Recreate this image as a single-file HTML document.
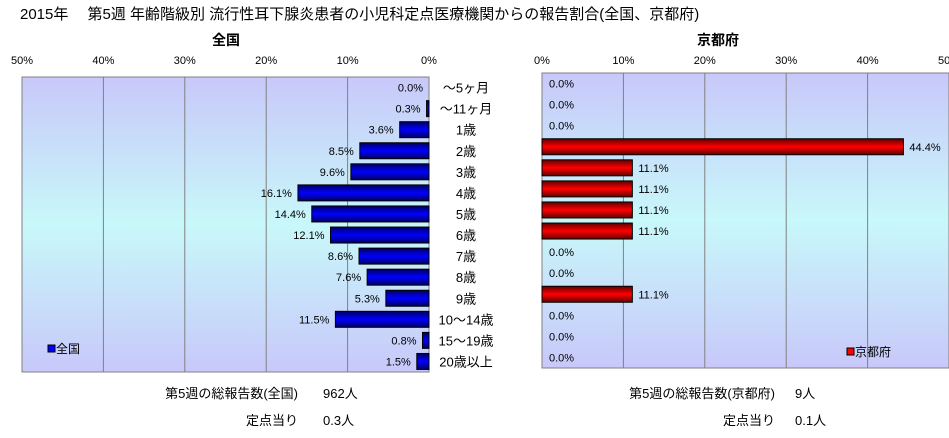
<!DOCTYPE html>
<html><head><meta charset="utf-8"><style>
body{margin:0;width:949px;height:433px;background:#fff;overflow:hidden;font-family:"Liberation Sans","Noto Sans CJK JP",sans-serif;}
</style></head><body>
<svg id="c" width="949" height="433" xmlns="http://www.w3.org/2000/svg" font-family="Liberation Sans, Noto Sans CJK JP, sans-serif">
<defs>
<linearGradient id="bg" x1="0" y1="0" x2="0" y2="1">
<stop offset="0" stop-color="#c8c8fa"/><stop offset="0.5" stop-color="#c8f8fa"/><stop offset="1" stop-color="#c8c8fa"/></linearGradient>
<linearGradient id="gb" x1="0" y1="0" x2="0" y2="1"><stop offset="0" stop-color="#000060"/><stop offset="0.5" stop-color="#0000ff"/><stop offset="1" stop-color="#000060"/></linearGradient>
<linearGradient id="gr" x1="0" y1="0" x2="0" y2="1"><stop offset="0" stop-color="#600000"/><stop offset="0.5" stop-color="#ff0000"/><stop offset="1" stop-color="#600000"/></linearGradient>
</defs>
<text x="20" y="19" font-size="15" fill="#000">2015年　 第5週 年齢階級別 流行性耳下腺炎患者の小児科定点医療機関からの報告割合(全国、京都府)</text>
<text x="226" y="45" font-size="14" font-weight="bold" text-anchor="middle">全国</text>
<text x="718" y="45" font-size="14" font-weight="bold" text-anchor="middle">京都府</text>
<g id="g"></g>
<text x="298" y="398" font-size="13" text-anchor="end">第5週の総報告数(全国)</text>
<text x="323" y="398" font-size="13">962人</text>
<text x="298" y="425" font-size="13" text-anchor="end">定点当り</text>
<text x="323" y="425" font-size="13">0.3人</text>
<text x="775" y="398" font-size="13" text-anchor="end">第5週の総報告数(京都府)</text>
<text x="795" y="398" font-size="13">9人</text>
<text x="775" y="425" font-size="13" text-anchor="end">定点当り</text>
<text x="795" y="425" font-size="13">0.1人</text>
</svg>
<script>
const categories=["～5ヶ月","～11ヶ月","1歳","2歳","3歳","4歳","5歳","6歳","7歳","8歳","9歳","10～14歳","15～19歳","20歳以上"];
const nationalValues=[0.0,0.3,3.6,8.5,9.6,16.1,14.4,12.1,8.6,7.6,5.3,11.5,0.8,1.5];
const kyotoValues=[0,0,0,44.4,11.1,11.1,11.1,11.1,0,0,11.1,0,0,0];
const tickLabels=["0%","10%","20%","30%","40%","50%"];
const tickValues=[0,10,20,30,40,50];
const NS="http://www.w3.org/2000/svg",g=document.getElementById('g');
function mk(t,a,txt){const e=document.createElementNS(NS,t);for(const k in a)e.setAttribute(k,a[k]);if(txt!==undefined)e.textContent=txt;g.appendChild(e);return e;}
const L={x0:429,x1:22,top:77,bot:372},R={x0:542,x1:949,top:73,bot:368};
const xL=v=>L.x0+(L.x1-L.x0)*v/50, xR=v=>R.x0+(R.x1-R.x0)*v/50;
function panel(P,xf,vals,fill,side){
 let e=mk('rect',{x:Math.min(P.x0,P.x1),y:P.top,width:Math.abs(P.x1-P.x0),height:P.bot-P.top,fill:'url(#bg)',stroke:'#808080'});
 
 tickValues.forEach((t,i)=>{const x=xf(t);
  if(t>0&&t<50){e=mk('line',{x1:x,x2:x,y1:P.top,y2:P.bot,stroke:'#808080'});}
  e=mk('text',{x:x,y:64,'font-size':11,'text-anchor':'middle'},tickLabels[i]);
  });
 const rh=(P.bot-P.top)/vals.length;
 vals.forEach((v,i)=>{const cy=P.top+rh*(i+0.5),xa=xf(0),xb=xf(v);
  if(v>0){e=mk('rect',{x:Math.min(xa,xb),y:cy-8,width:Math.abs(xb-xa),height:16,fill:fill,stroke:'#000'});
   }
  const lbl=v.toFixed(1)+'%';
  if(side==='national'){e=mk('text',{x:xb-6,y:cy+4,'font-size':11,'text-anchor':'end'},lbl);}
  else{e=mk('text',{x:v>0?xb+6:549,y:cy+4,'font-size':11},lbl);}
  
  if(side==='national'){e=mk('text',{x:466,y:cy+5,'font-size':13,'text-anchor':'middle'},categories[i]);
   }
 });
}
panel(L,xL,nationalValues,'url(#gb)','national');
panel(R,xR,kyotoValues,'url(#gr)','kyoto');
let e=mk('rect',{x:48,y:345,width:7,height:7,fill:'#0000ff',stroke:'#000'});
e=mk('text',{x:56,y:353,'font-size':12},'全国');
e=mk('rect',{x:847,y:348,width:7,height:7,fill:'#ff0000',stroke:'#000'});
e=mk('text',{x:855,y:356,'font-size':12},'京都府');
</script>
</body></html>
